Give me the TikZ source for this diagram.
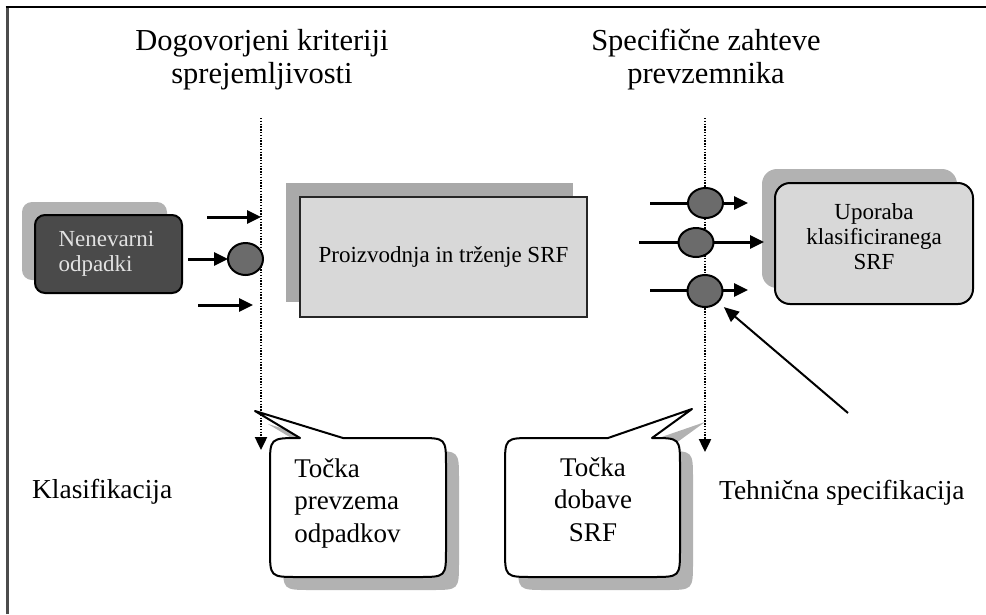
\documentclass[tikz,border=0pt]{standalone}
\usepackage{fontspec}
\setmainfont{Liberation Serif}
\usetikzlibrary{arrows.meta,shapes.geometric,calc}
\definecolor{blobgray}{HTML}{6B6B6B}
\definecolor{shadowgray}{HTML}{B2B2B2}
\definecolor{darkfill}{HTML}{4A4A4A}
\definecolor{lightfill}{HTML}{D8D8D8}
\definecolor{lighttext}{HTML}{E2E2E2}
\begin{document}
\begin{tikzpicture}[x=1pt,y=-1pt,
  arr/.style={line width=3pt,-{Triangle[length=14pt,width=13pt]}},
  thinarr/.style={line width=2pt,-{Triangle[length=15pt,width=13pt]}},
  dotline/.style={line width=2.4pt,dash pattern=on 1.4pt off 1.4pt,-{Triangle[length=13pt,width=12pt]}},
  blob/.style={ellipse,draw=black,line width=2pt,fill=blobgray,minimum width=35pt,inner sep=0pt},
  darkbox/.style={rounded corners=10pt,fill=darkfill,draw=black,line width=2pt,text=lighttext,align=left,text width=100pt,inner sep=0pt,font=\fontsize{23}{25}\selectfont},
  midbox/.style={fill=lightfill,draw=black!85,line width=2.5pt,inner sep=0pt,font=\fontsize{23}{25}\selectfont},
  lightbox/.style={rounded corners=15pt,fill=lightfill,draw=black,line width=2pt,inner sep=0pt},
  boxtext/.style={font=\fontsize{23}{25}\selectfont,align=center,inner sep=0pt},
  title/.style={font=\fontsize{30.5}{33}\selectfont,align=center,inner sep=0pt},
  calltext/.style={font=\fontsize{27}{32.5}\selectfont,inner sep=0pt},
  label/.style={font=\fontsize{27.4}{30}\selectfont,inner sep=0pt,anchor=base west},
  callout/.style={fill=white,draw=black,line width=2pt,line join=round}
]
\useasboundingbox (0,0) rectangle (986,614);
% frame
\draw[line width=3pt,black!70] (7,614) -- (7,7);
\draw[line width=2.5pt,black] (5.5,7) -- (986,7);

% titles
\node[title] (t1) at (262,59.5) {Dogovorjeni kriteriji\\sprejemljivosti};
\node[title] (t2) at (706,59.5) {Specifične zahteve\\prevzemnika};

% dotted vertical lines
\coordinate (d1t) at (261,118);
\coordinate (d1b) at (261,450);
\coordinate (d2t) at (705,118);
\coordinate (d2b) at (705,452);
\draw[dotline] (d1t) -- (d1b);
\draw[dotline] (d2t) -- (d2b);

% left box
\fill[shadowgray,rounded corners=10pt] (22,202) rectangle (167,280);
\node[darkbox,minimum width=147pt,minimum height=78pt] (nen) at (108.5,254) {Nenevarni\\odpadki};

% left arrows
\coordinate (a1s) at (207,217);
\coordinate (a1e) at (261,217);
\coordinate (a3s) at (198,305);
\coordinate (a3e) at (253,305);
\draw[arr] (a1s) -- (a1e);
\draw[arr] (a3s) -- (a3e);
\coordinate (e1pos) at (245.5,259);
\draw[arr,shorten <=5pt] (nen.east |- e1pos) -- ($(e1pos)+(-17.5,0)$);
\node[blob,minimum height=32pt] (e1) at (e1pos) {};

% middle box
\fill[shadowgray!95!black] (286,183) rectangle (573,302);
\node[midbox,minimum width=287pt,minimum height=120pt] (prod) at (443.5,257) {Proizvodnja in trženje SRF};

% right box
\fill[shadowgray,rounded corners=15pt] (762,169) rectangle (957,288);
\node[lightbox,minimum width=198pt,minimum height=121pt] (use) at (874,243.5) {};
\node[boxtext] (usetxt) at (874,237) {Uporaba\\klasificiranega\\SRF};

% right arrows
\coordinate (r1s) at (650,203);
\coordinate (r1e) at (748,203);
\coordinate (r2s) at (639,242);
\coordinate (r3s) at (650,290);
\coordinate (r3e) at (748,290);
\draw[arr] (r1s) -- (r1e);
\draw[arr,shorten >=10pt] (r2s) -- (use.west |- r2s);
\draw[arr] (r3s) -- (r3e);
\node[blob,minimum height=30pt] (e2) at (705.5,203) {};
\node[blob,minimum height=29pt] (e3) at (696,242.5) {};
\node[blob,minimum height=32pt] (e4) at (705,291) {};
\coordinate (ts) at (848,413);
\draw[thinarr,shorten >=7pt] (ts) -- (e4);

% left callout
\begin{scope}[shift={(13,13)}]
\fill[shadowgray] (255,411) -- (300,438) .. controls (270,438) .. (270,466) -- (270,549) .. controls (270,577) .. (298,577) -- (418,577) .. controls (446,577) .. (446,549) -- (446,466) .. controls (446,438) .. (418,438) -- (343,438) -- cycle;
\end{scope}
\path[callout] (255,411) -- (300,438) .. controls (270,438) .. (270,466) -- (270,549) .. controls (270,577) .. (298,577) -- (418,577) .. controls (446,577) .. (446,549) -- (446,466) .. controls (446,438) .. (418,438) -- (343,438) -- cycle;
\node[calltext,align=left] (tl) at (347.5,503) {Točka\\prevzema\\odpadkov};

% right callout
\begin{scope}[shift={(13,13)}]
\fill[shadowgray] (692,409) -- (652,438) .. controls (680,438) .. (680,466) -- (680,549) .. controls (680,577) .. (652,577) -- (533,577) .. controls (505,577) .. (505,549) -- (505,466) .. controls (505,438) .. (533,438) -- (608,438) -- cycle;
\end{scope}
\path[callout] (692,409) -- (652,438) .. controls (680,438) .. (680,466) -- (680,549) .. controls (680,577) .. (652,577) -- (533,577) .. controls (505,577) .. (505,549) -- (505,466) .. controls (505,438) .. (533,438) -- (608,438) -- cycle;
\node[calltext,align=center] (tr) at (593,499.3) {Točka\\dobave\\SRF};

% labels
\node[label] (kl) at (32,498) {Klasifikacija};
\node[label] (te) at (719,499) {Tehnična specifikacija};
\end{tikzpicture}
\end{document}
